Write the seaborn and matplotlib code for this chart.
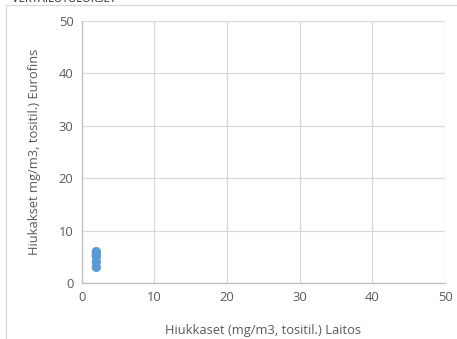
import matplotlib
matplotlib.use("Agg")
import matplotlib.pyplot as plt
import seaborn as sns
import pandas as pd
from matplotlib.patches import Rectangle

x_laitos = [2, 2, 2, 2, 2]
y_eurofins = [3, 4, 5, 5.5, 6]
ticks = [0, 10, 20, 30, 40, 50]

sns.set_theme(style="white")
plt.rcParams['font.family'] = ['Open Sans', 'DejaVu Sans']

df = pd.DataFrame({"x": x_laitos, "y": y_eurofins})

fig = plt.figure(figsize=(4.57, 3.39), dpi=100)
ax = fig.add_axes([0.179, 0.165, 0.795, 0.773])

sns.scatterplot(data=df, x="x", y="y", ax=ax, color="#5B9BD5", s=45,
                edgecolor="none", zorder=3)

ax.set_xlim(0, 50)
ax.set_ylim(0, 50)
ax.set_xticks(ticks)
ax.set_yticks(ticks)
ax.grid(True, color="#d9d9d9", linewidth=0.9)
ax.set_axisbelow(True)
for s in ["top", "right"]:
    ax.spines[s].set_visible(False)
for s in ["left", "bottom"]:
    ax.spines[s].set_color("#bfbfbf")
    ax.spines[s].set_linewidth(0.9)
ax.tick_params(axis="both", colors="#595959", labelsize=9.3, length=0, pad=6)
ax.set_xlabel("Hiukkaset (mg/m3, tositil.) Laitos", color="#595959", fontsize=9.3, labelpad=14)
ax.set_ylabel("Hiukakset mg/m3, tositil.) Eurofins", color="#595959", fontsize=9.3, labelpad=13)

fig.patches.append(Rectangle((6 / 457, -0.05), 1.0, 1 - 5 / 339 + 0.05,
                             transform=fig.transFigure, fill=False,
                             edgecolor="#d9d9d9", linewidth=0.9))
fig.text(0.026, 1.0, "VERTAILUTULOKSET", va="center", ha="left", fontsize=8, color="#222222")

fig.savefig("out.png", dpi=100)
